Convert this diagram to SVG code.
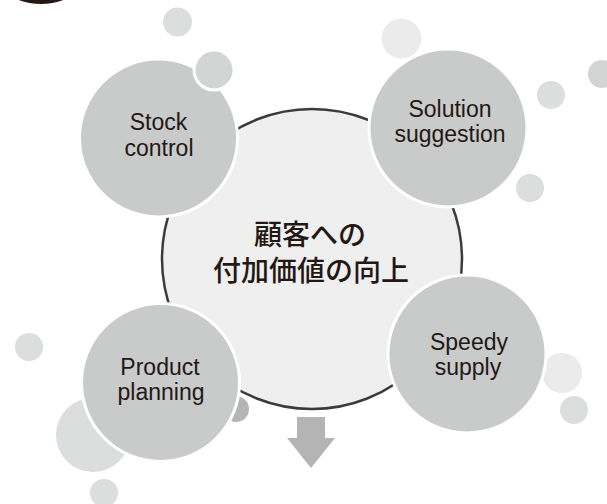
<svg xmlns="http://www.w3.org/2000/svg" width="607" height="504" viewBox="0 0 607 504">
  <style>
    .bub1 { fill: #dcdddd; }
    .bub2 { fill: #ebebeb; }
    .bub3 { fill: #d3d4d4; }
    .bub4 { fill: #b5b5b6; }
    .sat { fill: #c9caca; stroke: #ffffff; stroke-width: 3; }
    .hub { fill: #efefef; stroke: #3e3a39; stroke-width: 2.5; }
    .lbl { font-family: "Liberation Sans", Arial, sans-serif; font-size: 23px; fill: #231815; text-anchor: middle; }
    .hubtxt { font-family: "Noto Sans CJK JP", "Noto Sans", sans-serif; font-size: 28px; font-weight: 500; fill: #231815; text-anchor: middle; }
  </style>

  <!-- dark disc cut off at the top edge -->
  <circle cx="41" cy="-61" r="65" fill="#231815"/>

  <!-- decorative bubbles -->
  <g id="bubbles">
    <circle class="bub1" cx="177.5" cy="22" r="14.5"/>
    <circle class="bub2" cx="401.5" cy="38.5" r="20"/>
    <circle class="bub1" cx="551" cy="95" r="14"/>
    <circle class="bub3" cx="602" cy="74" r="14"/>
    <circle class="bub1" cx="530" cy="188" r="14"/>
    <circle class="bub1" cx="29" cy="347" r="14"/>
    <circle class="bub1" cx="93" cy="435" r="37"/>
    <circle class="bub1" cx="104" cy="493" r="14"/>
    <circle class="bub4" cx="236" cy="409" r="13"/>
    <circle class="bub2" cx="562" cy="373" r="20"/>
    <circle class="bub1" cx="574" cy="410" r="14"/>
  </g>

  <!-- central hub -->
  <g id="hub">
    <circle class="hub" cx="312" cy="259" r="150"/>
    <text class="hubtxt" x="310" y="245">顧客への</text>
    <text class="hubtxt" x="311" y="281">付加価値の向上</text>
  </g>

  <g id="stock-control">
    <circle class="sat" cx="158.5" cy="138" r="79"/>
    <text class="lbl" x="158.5" y="130">Stock</text>
    <text class="lbl" x="159" y="156">control</text>
  </g>
  <circle class="bub3" cx="214" cy="70" r="20" stroke="#ffffff" stroke-width="3"/>

  <g id="solution-suggestion">
    <circle class="sat" cx="448" cy="128" r="79"/>
    <text class="lbl" x="450" y="117">Solution</text>
    <text class="lbl" x="450" y="142">suggestion</text>
  </g>

  <g id="product-planning">
    <circle class="sat" cx="160.5" cy="382.5" r="79"/>
    <text class="lbl" x="160" y="375">Product</text>
    <text class="lbl" x="161" y="400">planning</text>
  </g>

  <g id="speedy-supply">
    <circle class="sat" cx="467" cy="354" r="79"/>
    <text class="lbl" x="469" y="350">Speedy</text>
    <text class="lbl" x="468" y="375">supply</text>
  </g>

  <!-- outgoing arrow -->
  <g id="connectors">
    <polygon points="297,417 325,417 325,438 335,438 311,468 287,438 297,438" fill="#b4b4b4"/>
  </g>
</svg>
